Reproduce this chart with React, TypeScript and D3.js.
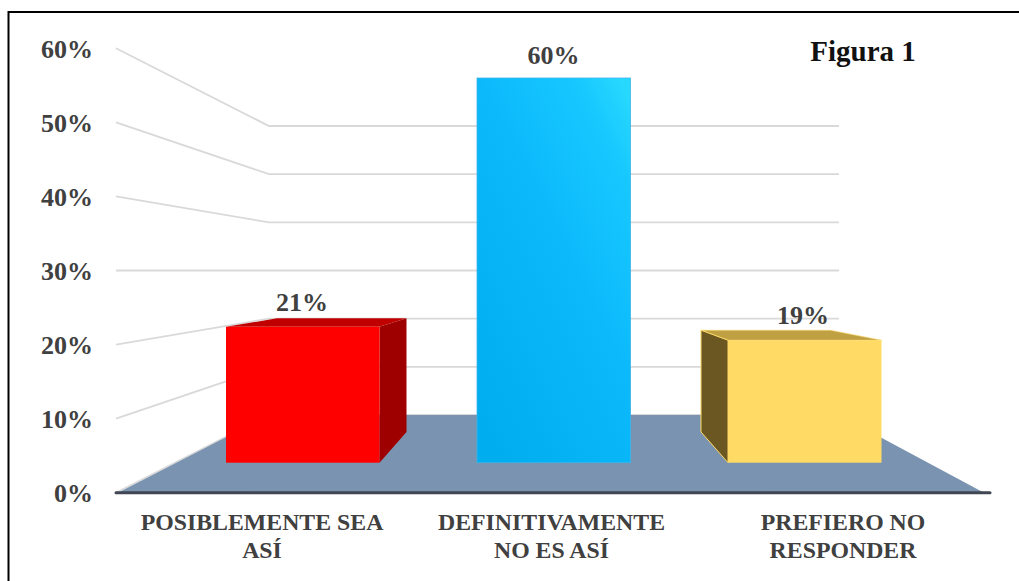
import React from "react";
import * as d3 from "d3";

const categories = [["POSIBLEMENTE SEA", "ASÍ"], ["DEFINITIVAMENTE", "NO ES ASÍ"], ["PREFIERO NO", "RESPONDER"]];
const values = [21.2, 60, 19.1];
const ticks = [0, 10, 20, 30, 40, 50, 60];
const frontLefts = [226, 477, 728];
const depthSide = ["right", "none", "left"];

const W = 1019, H = 581;
const font = "'Liberation Serif', 'Times New Roman', serif";
const textC = "#404040";
const grid = "#D9D9D9";
const barW = 153.5;

const yFront = d3.scaleLinear().domain([0, 60]).range([462.7, 78]);
const yBack = d3.scaleLinear().domain([0, 60]).range([415, 126]);
const ySide = d3.scaleLinear().domain([0, 60]).range([492.7, 48.3]);
const yLabel = d3.scaleLinear().domain([0, 60]).range([501.7, 58.3]);
const line = d3.line();

export default function App() {
  const pts = (p: [number, number][]) => line(p) + "Z";
  return (
    <svg width={W} height={H} style={{ position: "absolute", left: 0, top: 0, background: "#fff" }}>
      <defs>
        <linearGradient id="blue" x1="0.15" y1="1" x2="0.95" y2="0">
          <stop offset="0" stopColor="#00ADEF" />
          <stop offset="0.55" stopColor="#0CBAFB" />
          <stop offset="0.85" stopColor="#17C8FF" />
          <stop offset="1" stopColor="#28D9FF" />
        </linearGradient>
      </defs>
      <path d={line([[8.5, 581], [8.5, 12], [1019, 12]]) as string} fill="none" stroke="#000" strokeWidth={2} />

      {/* walls */}
      {ticks.map((t) => (
        <path
          key={t}
          d={line([[116, ySide(t)], [269, yBack(t)], [839, yBack(t)]]) as string}
          fill="none"
          stroke={grid}
          strokeWidth={1.8}
        />
      ))}

      {/* floor */}
      <path d={pts([[118, ySide(0)], [269, yBack(0)], [839, yBack(0)], [984, ySide(0)]])} fill="#7A93B0" />
      <line x1={116} x2={990} y1={ySide(0)} y2={ySide(0)} stroke="#404652" strokeWidth={3} strokeLinecap="round" />

      {/* bars */}
      {values.map((v, i) => {
        const x0 = frontLefts[i];
        const x1 = x0 + barW;
        const top = yFront(v);
        const bot = yFront(0);
        if (depthSide[i] === "right") {
          const bt = top - 8.4;
          return (
            <g key={i}>
              <path d={pts([[x0, top], [x0 + 51, bt], [x1 + 27, bt], [x1, top]])} fill="#C00000" />
              <path d={pts([[x1, top], [x1 + 27, bt], [x1 + 27, bot - 30.7], [x1, bot]])} fill="#9E0000" />
              <rect x={x0} y={top} width={barW} height={bot - top} fill="#FF0000" />
            </g>
          );
        }
        if (depthSide[i] === "left") {
          const bt = top - 10;
          return (
            <g key={i}>
              <path d={pts([[x1, top], [x1 - 51, bt], [x0 - 27, bt], [x0, top]])} fill="#BFA144" stroke="#FFD966" strokeWidth={0.6} />
              <path d={pts([[x0, top], [x0 - 27, bt], [x0 - 27, bot - 30.7], [x0, bot]])} fill="#6B5722" stroke="#FFD966" strokeWidth={1} />
              <rect x={x0} y={top} width={barW} height={bot - top} fill="#FFDB66" />
            </g>
          );
        }
        return (
          <rect key={i} x={x0} y={top} width={barW} height={bot - top} fill="url(#blue)" stroke="#3FB4E8" strokeWidth={0.8} />
        );
      })}

      {/* y tick labels */}
      <g fontFamily={font} fontWeight="bold" fontSize={26} fill={textC} textAnchor="end">
        {ticks.map((t) => (
          <text key={t} x={93} y={yLabel(t)}>{t}%</text>
        ))}
      </g>

      {/* value labels */}
      <g fontFamily={font} fontWeight="bold" fontSize={26} fill={textC} textAnchor="middle">
        <text x={302} y={310.5}>{Math.round(values[0])}%</text>
        <text x={553.5} y={63.5}>{Math.round(values[1])}%</text>
        <text x={803} y={324}>{Math.round(values[2])}%</text>
      </g>

      {/* category labels */}
      <g fontFamily={font} fontWeight="bold" fontSize={23.8} fill={textC} textAnchor="middle">
        {categories.map((c, i) => {
          const cx = [262, 551.5, 843][i];
          return c.map((l, j) => (
            <text key={l} x={cx} y={530 + j * 28}>{l}</text>
          ));
        })}
      </g>

      <text x={863} y={61} fontFamily={font} fontWeight="bold" fontSize={29} fill="#111" textAnchor="middle">Figura 1</text>
    </svg>
  );
}
